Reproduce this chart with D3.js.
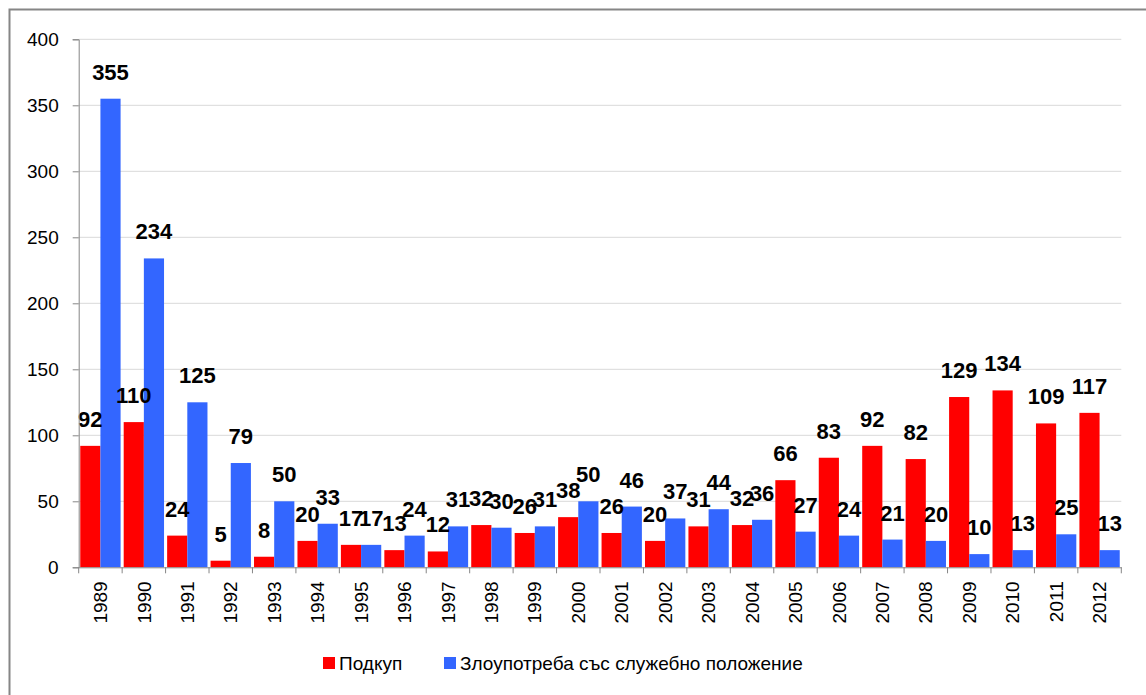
<!DOCTYPE html>
<html>
<head>
<meta charset="utf-8">
<script src="https://cdn.jsdelivr.net/npm/d3@7"></script>
<style>
  body { margin: 0; background: #fff; }
  svg { display: block; }
</style>
</head>
<body>
<div id="chart"></div>
<script>
var years = ["1989", "1990", "1991", "1992", "1993", "1994", "1995", "1996", "1997", "1998", "1999", "2000",
             "2001", "2002", "2003", "2004", "2005", "2006", "2007", "2008", "2009", "2010", "2011", "2012"];
var bribery = [92, 110, 24, 5, 8, 20, 17, 13, 12, 32, 26, 38, 26, 20, 31, 32, 66, 83, 92, 82, 129, 134, 109, 117];
var abuse = [355, 234, 125, 79, 50, 33, 17, 24, 31, 30, 31, 50, 46, 37, 44, 36, 27, 24, 21, 20, 10, 13, 25, 13];
var seriesNames = ["Подкуп", "Злоупотреба със служебно положение"];
var seriesColors = ["#ff0000", "#3366ff"];
var yTicks = [0, 50, 100, 150, 200, 250, 300, 350, 400];

var width = 1146, height = 695;
var plotLeft = 78.7, plotRight = 1121.3, plotTop = 39.3, plotBottom = 567.3;
var font = "'Liberation Sans', Arial, sans-serif";

var svg = d3.select("#chart").append("svg")
    .attr("width", width)
    .attr("height", height);

// outer frame
svg.append("rect")
    .attr("x", 9.5).attr("y", 9.5)
    .attr("width", width).attr("height", height)
    .attr("fill", "none")
    .attr("stroke", "#868686")
    .attr("stroke-width", 2);

var x0 = d3.scaleBand().domain(years).range([plotLeft, plotRight]).paddingInner(0).paddingOuter(0);
var x1 = d3.scaleBand().domain([0, 1]).range([0, x0.bandwidth()]).paddingInner(0).paddingOuter(0.077);
var y = d3.scaleLinear().domain([0, 400]).range([plotBottom, plotTop]);

// gridlines
svg.append("g").selectAll("line")
    .data(yTicks.slice(1))
    .enter().append("line")
    .attr("x1", plotLeft).attr("x2", plotRight)
    .attr("y1", function(d) { return y(d); })
    .attr("y2", function(d) { return y(d); })
    .attr("stroke", "#d9d9d9")
    .attr("stroke-width", 1);

var rows = years.map(function(yr, i) { return { year: yr, vals: [bribery[i], abuse[i]] }; });

var group = svg.append("g").selectAll("g")
    .data(rows)
    .enter().append("g")
    .attr("transform", function(d) { return "translate(" + x0(d.year) + ",0)"; });

group.selectAll("rect")
    .data(function(d) { return d.vals.map(function(v, k) { return { k: k, v: v }; }); })
    .enter().append("rect")
    .attr("x", function(d) { return x1(d.k); })
    .attr("width", x1.bandwidth())
    .attr("y", function(d) { return y(d.v); })
    .attr("height", function(d) { return y(0) - y(d.v); })
    .attr("fill", function(d) { return seriesColors[d.k]; });

group.selectAll("text")
    .data(function(d) { return d.vals.map(function(v, k) { return { k: k, v: v }; }); })
    .enter().append("text")
    .attr("x", function(d) { return x1(d.k) + x1.bandwidth() / 2; })
    .attr("y", function(d) { return y(d.v) - 19; })
    .attr("text-anchor", "middle")
    .attr("font-family", font)
    .attr("font-weight", "bold")
    .attr("font-size", "22px")
    .attr("fill", "#000")
    .text(function(d) { return d.v; });

// y axis
var yAxis = svg.append("g")
    .attr("transform", "translate(" + plotLeft + ",0)")
    .call(d3.axisLeft(y).tickValues(yTicks).tickSize(6).tickPadding(14));
yAxis.select(".domain").attr("stroke", "#868686");
yAxis.selectAll(".tick line").attr("stroke", "#868686");
yAxis.selectAll(".tick text")
    .attr("font-family", font)
    .attr("font-size", "19px")
    .attr("fill", "#000");

// x axis
var xAxis = svg.append("g")
    .attr("transform", "translate(0," + plotBottom + ")")
    .call(d3.axisBottom(x0).tickSize(0).tickSizeOuter(0));
xAxis.select(".domain").attr("stroke", "#868686");
xAxis.selectAll(".tick text")
    .attr("font-family", font)
    .attr("font-size", "19px")
    .attr("fill", "#000")
    .attr("transform", "rotate(-90)")
    .attr("text-anchor", "end")
    .attr("x", -14)
    .attr("y", 0)
    .attr("dy", "0.35em");

// x tick marks at category boundaries
svg.append("g").selectAll("line")
    .data(d3.range(years.length + 1))
    .enter().append("line")
    .attr("x1", function(i) { return plotLeft + i * x0.step(); })
    .attr("x2", function(i) { return plotLeft + i * x0.step(); })
    .attr("y1", plotBottom).attr("y2", plotBottom + 6)
    .attr("stroke", "#868686");

// legend
var legend = svg.append("g").attr("transform", "translate(323,663)");
var legendX = [0, 121];
seriesNames.forEach(function(name, k) {
    var item = legend.append("g").attr("transform", "translate(" + legendX[k] + ",0)");
    item.append("rect")
        .attr("x", 0).attr("y", -6)
        .attr("width", 12).attr("height", 12)
        .attr("fill", seriesColors[k]);
    item.append("text")
        .attr("x", 16).attr("y", 0)
        .attr("dy", "0.35em")
        .attr("font-family", font)
        .attr("font-size", "19px")
        .attr("fill", "#000")
        .text(name);
});
</script>
</body>
</html>
